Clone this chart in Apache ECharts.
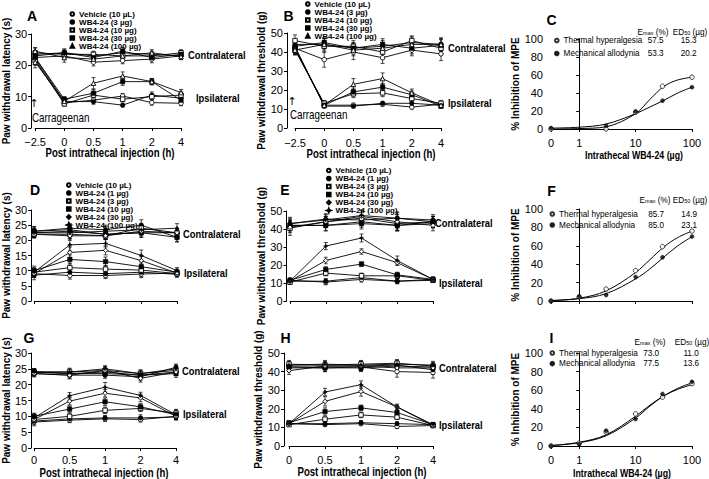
<!DOCTYPE html>
<html><head><meta charset="utf-8">
<script src="https://cdn.jsdelivr.net/npm/echarts@6/dist/echarts.min.js"></script>
<style>html,body{margin:0;padding:0;background:#fff}#c{width:709px;height:479px}</style>
</head><body><div id="c"></div>
<script>
// ================= DATA =================
const timeAB = ['\u22122.5', '0', '0.5', '1', '2', '4'];
const timeDG = ['0', '0.5', '1', '2', '4'];
const groupsAB = ['Vehicle (10 \u00b5L)', 'WB4-24 (3 \u00b5g)', 'WB4-24 (10 \u00b5g)', 'WB4-24 (30 \u00b5g)', 'WB4-24 (100 \u00b5g)'];
const groupsDG = ['Vehicle (10 \u00b5L)', 'WB4-24 (1 \u00b5g)', 'WB4-24 (3 \u00b5g)', 'WB4-24 (10 \u00b5g)', 'WB4-24 (30 \u00b5g)', 'WB4-24 (100 \u00b5g)'];

// Panel A: thermal latency (s)
const aIpsi = [
  [22, 8, 8.9, 10.2, 8.1, 7.9],
  [22.5, 8.5, 8.4, 7.3, 10.5, 9.5],
  [21.5, 7.7, 10.5, 9.2, 10, 10.5],
  [22.5, 9.2, 11.1, 14.8, 14.8, 8.9],
  [21, 8.5, 14.3, 16.6, 14.8, 11.3]];
const aIpsiErr = [
  [1.2, 0.8, 0.8, 0.8, 0.8, 0.8],
  [1.5, 0.8, 0.8, 0.6, 1.0, 0.9],
  [1.5, 0.7, 1.2, 0.8, 0.9, 1.0],
  [1.2, 0.8, 1.2, 1.2, 1.0, 1.0],
  [1.8, 0.8, 1.8, 1.3, 1.0, 1.0]];
const aContra = [
  [22.5, 23, 21, 21.5, 22, 23],
  [23.5, 24, 23, 24, 23.5, 23],
  [24, 23.5, 23.5, 23, 23, 24],
  [23, 24, 22.5, 24.5, 22.5, 23.5],
  [24.5, 22.5, 22, 23, 24, 22.8]];
const aContraErr = [
  [1.5, 1.0, 1.2, 1.0, 1.2, 1.0],
  [1.2, 1.2, 1.2, 1.0, 1.0, 1.0],
  [1.5, 1.2, 1.0, 1.2, 1.2, 1.0],
  [1.0, 1.2, 1.3, 1.2, 1.0, 1.2],
  [1.2, 1.5, 1.2, 1.0, 1.0, 1.0]];

// Panel B: mechanical threshold (g)
const bIpsi = [
  [42, 12, 12, 12.5, 11, 12.5],
  [43, 11.5, 11.5, 13, 13, 12],
  [41, 13, 18, 18.5, 15.5, 13],
  [42, 12, 19, 21.5, 17.5, 11.5],
  [41.5, 12, 23, 26, 18.5, 12]];
const bIpsiErr = [
  [2, 1, 1, 1, 1, 1],
  [2.5, 1, 1, 1, 1.5, 1],
  [2, 1.5, 2, 2, 1.5, 1.5],
  [2.5, 1, 2, 2, 2, 1],
  [3, 1, 3, 3, 2, 1.5]];
const bContra = [
  [42, 36, 40, 37, 41, 39],
  [44, 44, 42, 43, 45, 44],
  [46, 43, 43, 40, 46, 42],
  [43, 45, 42, 44, 42, 43.5],
  [41, 44, 41, 42, 44, 44]];
const bContraErr = [
  [3, 4, 4, 3, 3, 3.5],
  [2.5, 2, 3, 3, 3, 3],
  [3, 3, 3, 4, 2.5, 3],
  [3, 2.5, 2.5, 3, 3, 3],
  [2.5, 3, 3, 3, 3, 3.5]];

// Panel D: thermal latency (s)
const dIpsi = [
  [9, 8.4, 8.4, 8.9, 9.2],
  [8.5, 9.5, 9, 9.5, 8.8],
  [9.5, 11, 10.5, 10.2, 9],
  [10, 13.7, 13, 11.3, 9.5],
  [9, 16, 16.7, 13.3, 9.2],
  [9.5, 18.5, 19, 15, 10]];
const dIpsiErr = [
  [1.2, 1.2, 1.0, 1.2, 0.8],
  [1.5, 1.5, 1.2, 1.5, 1.0],
  [1.2, 1.5, 1.2, 1.2, 0.8],
  [1.5, 1.5, 1.5, 1.2, 1.0],
  [1.2, 1.8, 1.5, 1.5, 1.0],
  [1.5, 2.0, 1.2, 1.8, 1.0]];
const dContra = [
  [22.5, 23, 22, 22.5, 22.5],
  [23, 24, 23.5, 25, 21],
  [22, 22, 21.5, 24, 22.5],
  [23, 23.5, 22, 22.5, 21],
  [22, 21.5, 21.5, 23, 22.5],
  [22.5, 22.5, 23, 23.5, 24]];
const dContraErr = [
  [1.5, 1.5, 1.5, 1.5, 1.2],
  [1.5, 1.5, 1.5, 1.8, 1.5],
  [1.2, 1.5, 1.2, 1.5, 1.2],
  [1.5, 1.2, 1.5, 1.5, 1.5],
  [1.2, 1.5, 1.2, 1.5, 1.2],
  [1.5, 1.5, 1.5, 1.5, 1.5]];

// Panel E: mechanical threshold (g)
const eIpsi = [
  [11.5, 10.5, 12, 11, 11.5],
  [11, 11, 13, 11, 12],
  [10.5, 15.5, 14, 14, 11.5],
  [11.5, 17.5, 20.5, 14.5, 12],
  [11, 22.5, 27.5, 21.3, 12],
  [11, 30.5, 35, 22.5, 12]];
const eIpsiErr = [
  [1.2, 1.5, 1.5, 1.2, 1.2],
  [1.5, 1.5, 1.5, 1.5, 1.2],
  [1.2, 1.5, 1.5, 1.5, 1.2],
  [1.2, 1.5, 1.2, 1.5, 1.2],
  [1.2, 1.8, 1.5, 1.5, 1.2],
  [1.5, 2.0, 2.2, 2.5, 1.2]];
const eContra = [
  [42, 42, 44, 42, 43],
  [43, 45.5, 45, 46, 45],
  [40.5, 44, 46, 43, 44],
  [42, 42, 43, 42, 44],
  [41, 44, 47, 44, 42],
  [43, 45, 47.5, 46, 44]];
const eContraErr = [
  [3, 3, 3, 3, 2.5],
  [3, 3, 3, 3, 3],
  [4, 3, 3, 4, 3],
  [3, 3, 3, 3, 3],
  [3, 3, 3.5, 4, 3],
  [3.5, 3, 3, 3.5, 3]];

// Panel G: thermal latency (s)
const gIpsi = [
  [8.2, 8.8, 9.2, 9, 10],
  [8.5, 9.2, 9.5, 9.5, 9.8],
  [9, 10, 11.9, 12.5, 11],
  [10, 12.3, 14.6, 13, 10.5],
  [9, 14.8, 17.3, 15.8, 10],
  [9.5, 16.5, 19.2, 16.6, 10.5]];
const gIpsiErr = [
  [1.2, 0.8, 0.8, 0.8, 0.8],
  [1.0, 1.0, 0.8, 1.0, 1.0],
  [1.0, 1.0, 1.0, 1.0, 1.2],
  [1.0, 1.0, 1.2, 1.0, 1.5],
  [1.0, 1.2, 1.2, 1.2, 1.0],
  [1.2, 1.0, 1.5, 1.0, 1.2]];
const gContra = [
  [24, 23.5, 24, 23, 24],
  [23.5, 23, 23, 22.5, 25.5],
  [24, 24, 24.5, 23.5, 24.5],
  [24, 23.5, 23.5, 23, 23.5],
  [23.5, 23, 24.5, 22, 24],
  [24, 24, 25, 23.5, 25]];
const gContraErr = [
  [1.0, 1.0, 1.0, 1.2, 1.0],
  [1.0, 1.2, 1.0, 1.2, 1.0],
  [1.0, 1.0, 1.2, 1.0, 1.0],
  [1.0, 1.0, 1.0, 1.0, 1.2],
  [1.0, 1.0, 1.0, 1.2, 1.0],
  [1.0, 1.2, 1.0, 1.2, 1.2]];

// Panel H: mechanical threshold (g)
const hIpsi = [
  [12, 11.5, 12, 10.5, 11],
  [12, 12, 12.5, 12, 11.5],
  [11.5, 14.4, 16.7, 15.5, 11],
  [12.5, 18.5, 20.5, 18, 11.5],
  [12, 24, 29.3, 21, 11],
  [12, 29, 33, 21, 11.5]];
const hIpsiErr = [
  [1.0, 1.0, 1.0, 1.0, 1.0],
  [1.0, 1.0, 1.2, 1.0, 1.0],
  [1.0, 1.2, 1.5, 1.2, 1.0],
  [1.0, 2.0, 1.5, 1.2, 1.0],
  [1.0, 2.5, 2.5, 1.5, 1.0],
  [1.0, 2.0, 2.0, 1.0, 1.0]];
const hContra = [
  [42, 42, 42.5, 40, 39.5],
  [43, 43, 43, 43.5, 41],
  [44, 43.5, 44, 44.5, 43],
  [42.5, 42, 42, 43, 42.5],
  [40.5, 43, 43, 42, 42],
  [43.5, 44, 43.5, 44, 43.5]];
const hContraErr = [
  [2, 2, 2, 3, 3],
  [2, 2, 2.5, 2, 2.5],
  [2, 2, 2, 2, 2],
  [2.5, 2, 2, 2, 2],
  [2, 2, 2.5, 2.5, 2],
  [2, 2, 2, 2, 2]];

// Dose-response panels C, F, I (% inhibition of MPE)
const doseTicks = [0, 1, 10, 100];
const doseTickLabels = ['0', '1', '10', '100'];
const effectNames = ['Thermal hyperalgesia', 'Mechanical allodynia'];
const curveDose = [0, 1, 3, 10, 18, 32, 56, 100];

const cDose = [0, 3, 10, 30, 100];
const cThermal = [0, 0, 18.5, 47.5, 57.5];
const cMech = [1, 3.5, 19.5, 31.5, 46.5];
const cThermalFit = [0, 0.5, 2.5, 17, 33, 47.5, 54.5, 57.5];
const cMechFit = [1, 2, 5.5, 17, 24.5, 32, 40, 46.5];
const cEmax = ['57.5', '53.3'];
const cED50 = ['15.3', '20.2'];

const fDose = [0, 1, 3, 10, 30, 100];
const fThermal = [0, 4.5, 13, 33, 59, 76];
const fMech = [0, 5, 6.5, 26, 47.5, 70];
const fThermalFit = [0.5, 3, 11, 31, 45, 59, 69, 76];
const fMechFit = [0.5, 2.5, 8, 24, 35, 48, 60, 70];
const fEmax = ['85.7', '85.0'];
const fED50 = ['14.9', '23.1'];

const iDose = [0, 1, 3, 10, 30, 100];
const iThermal = [0, 3, 15, 34.5, 52.5, 67];
const iMech = [0, 2, 16.5, 29, 56, 69];
const iThermalFit = [0.5, 4, 12, 32, 44, 54, 61, 66];
const iMechFit = [0.5, 3.5, 11, 30, 43, 54, 62, 68];
const iEmax = ['73.0', '77.5'];
const iED50 = ['11.0', '13.6'];

// ================= STYLE / LAYOUT =================
const FN = "'Liberation Sans',Arial,sans-serif";
const symOpen = {color: '#fff', borderColor: '#000', borderWidth: 0.9};
const symFill = {color: '#000', borderColor: '#000', borderWidth: 0.5};
const STAR = 'path://M5,0L6.4,3.6L10,5L6.4,6.4L5,10L3.6,6.4L0,5L3.6,3.6Z';
const markersAB = [['circle', symOpen], ['circle', symFill], ['rect', symOpen], ['rect', symFill], ['triangle', symOpen]];
const markersDG = [['circle', symOpen], ['circle', symFill], ['rect', symOpen], ['rect', symFill], ['diamond', symOpen], [STAR, symFill]];
const LAT = 'Paw withdrawal latency (s)';
const THR = 'Paw withdrawal threshold (g)';
const MPE = '% Inhibition of MPE';
const PIT = 'Post intrathecal injection (h)';
const DOSE = 'Intrathecal WB4-24 (\u00b5g)';

const grid = [], xAxis = [], yAxis = [], series = [], legend = [], graphic = [];
const lx = d => d === 0 ? -0.5 : Math.log10(d);

function txt(x, y, text, size, weight, align, sx, family) {
  return {type: 'text', x: x, y: y, scaleX: sx || 1, silent: true, z: 10,
    style: {text: text, fontSize: size, fontWeight: weight || 'normal', fontFamily: family || FN, fill: '#000',
      align: align || 'left', textAlign: align || 'left', verticalAlign: 'middle', textVerticalAlign: 'middle'}};
}

function yAxisCfg(gi, L, max, interval, name) {
  return {gridIndex: gi, type: 'value', min: 0, max: max, interval: interval, offset: L.yOff,
    axisLine: {show: true, lineStyle: {color: '#000', width: 1}},
    axisTick: {show: true, length: 3, lineStyle: {color: '#000', width: 1}},
    axisLabel: {fontSize: 11, margin: 4, color: '#000', fontFamily: FN},
    splitLine: {show: false},
    name: name, nameLocation: 'middle', nameGap: L.yGap,
    nameTextStyle: {fontSize: 10, fontWeight: 'bold', color: '#000', fontFamily: FN}};
}

function errSeries(gi, vals, errs) {
  return {type: 'custom', xAxisIndex: gi, yAxisIndex: gi, silent: true, z: 2, animation: false,
    encode: {x: 0, y: 1},
    data: vals.map((v, i) => [i, v, errs[i]]),
    renderItem: function (params, api) {
      const x = api.value(0), y = api.value(1), e = api.value(2);
      const p1 = api.coord([x, y + e]), p2 = api.coord([x, y - e]);
      const st = {stroke: '#000', lineWidth: 0.7};
      const c = 2;
      return {type: 'group', children: [
        {type: 'line', shape: {x1: p1[0], y1: p1[1], x2: p2[0], y2: p2[1]}, style: st},
        {type: 'line', shape: {x1: p1[0] - c, y1: p1[1], x2: p1[0] + c, y2: p1[1]}, style: st},
        {type: 'line', shape: {x1: p2[0] - c, y1: p2[1], x2: p2[0] + c, y2: p2[1]}, style: st}]};
    }};
}

function timePanel(L, cats, groups, markers, ipsi, ipsiErr, contra, contraErr) {
  const gi = grid.length;
  grid.push(Object.assign({containLabel: false}, L.grid));
  xAxis.push({gridIndex: gi, type: 'category', data: cats, boundaryGap: false, offset: L.xOff,
    axisLine: {show: true, lineStyle: {color: '#000', width: 1}},
    axisTick: {show: true, length: 3, interval: 0, lineStyle: {color: '#000', width: 1}},
    axisLabel: {show: L.showX, interval: 0, fontSize: 11, margin: L.xMargin || 4, color: '#000', fontFamily: FN},
    splitLine: {show: false}});
  yAxis.push(yAxisCfg(gi, L, L.yMax, L.yInt, L.yName));
  const names = groups.map(g => L.id + '|' + g);
  groups.forEach((g, s) => {
    [[ipsi, ipsiErr], [contra, contraErr]].forEach(pair => {
      series.push(errSeries(gi, pair[0][s], pair[1][s]));
      series.push({type: 'line', name: names[s], xAxisIndex: gi, yAxisIndex: gi, data: pair[0][s],
        symbol: markers[s][0], symbolSize: 4.5, itemStyle: markers[s][1],
        lineStyle: {color: '#000', width: 0.9}, z: 3, animation: false, silent: true});
    });
  });
  if (L.legend) {
    legend.push({left: L.legend.left, top: L.legend.top, orient: 'vertical', padding: 0, itemGap: 0,
      itemWidth: 3.6, itemHeight: 3.6, selectedMode: false,
      textStyle: {fontFamily: FN, fontSize: 8, fontWeight: 'bold', color: '#000', lineHeight: 7},
      formatter: n => n.slice(n.indexOf('|') + 1),
      data: names.map((n, i) => ({name: n, icon: markers[i][0]}))});
  }
  graphic.push(txt(L.letter[0], L.letter[1], L.id, 14, 'bold', 'center'));
  graphic.push(txt(L.contra[0], L.contra[1], 'Contralateral', 11, 'bold', 'left', 0.85));
  graphic.push(txt(L.ipsi[0], L.ipsi[1], 'Ipsilateral', 11, 'bold', 'left', 0.85));
  if (L.xTitle) graphic.push(txt(L.xTitle[0], L.xTitle[1], PIT, 12, 'bold', 'center', 0.8));
  if (L.carr) {
    graphic.push(txt(L.carr.arrow[0], L.carr.arrow[1], '\u2191', 11, 'normal', 'center', 1, "'DejaVu Sans',sans-serif"));
    graphic.push(txt(L.carr.text[0], L.carr.text[1], 'Carrageenan', 12, 'normal', 'left', 0.82));
  }
}

function dosePanel(L, doses, thermal, mech, thermalFit, mechFit, emax, ed50) {
  const gi = grid.length;
  grid.push(Object.assign({containLabel: false}, L.grid));
  const tickPos = doseTicks.map(lx);
  xAxis.push({gridIndex: gi, type: 'value', min: -0.5, max: 2, offset: L.xOff,
    axisLine: {show: true, lineStyle: {color: '#000', width: 1}},
    axisTick: {show: true, length: 3, customValues: tickPos, lineStyle: {color: '#000', width: 1}},
    axisLabel: {show: L.showX, customValues: tickPos, fontSize: 11, margin: 4, color: '#000', fontFamily: FN,
      formatter: v => { const k = tickPos.findIndex(t => Math.abs(t - v) < 1e-6); return k >= 0 ? doseTickLabels[k] : ''; }},
    splitLine: {show: false}});
  yAxis.push(yAxisCfg(gi, L, 100, 20, MPE));
  const names = effectNames.map(n => L.id + '|' + n);
  [thermalFit, mechFit].forEach(fit => {
    series.push({type: 'line', xAxisIndex: gi, yAxisIndex: gi, data: curveDose.map((d, i) => [lx(d), fit[i]]),
      symbol: 'none', smooth: 0.35, lineStyle: {color: '#000', width: 1}, z: 2, animation: false, silent: true});
  });
  series.push({type: 'scatter', name: names[0], xAxisIndex: gi, yAxisIndex: gi, data: doses.map((d, i) => [lx(d), thermal[i]]),
    symbol: 'circle', symbolSize: 4.5, itemStyle: symOpen, z: 4, animation: false, silent: true});
  series.push({type: 'scatter', name: names[1], xAxisIndex: gi, yAxisIndex: gi, data: doses.map((d, i) => [lx(d), mech[i]]),
    symbol: 'circle', symbolSize: 4, itemStyle: symFill, z: 4, animation: false, silent: true});
  const fs = 8.2;
  legend.push({left: L.legend.left, top: L.legend.top, orient: 'vertical', padding: 0, itemGap: L.legend.gap,
    itemWidth: 3.6, itemHeight: 3.6, selectedMode: false,
    textStyle: {fontFamily: FN, fontSize: fs, color: '#000', lineHeight: 8,
      rich: {n: {width: L.legend.nW, fontSize: fs, fontFamily: FN, lineHeight: 8},
             e: {width: L.legend.eW, align: 'center', fontSize: fs, fontFamily: FN, lineHeight: 8},
             d: {width: L.legend.dW, align: 'center', fontSize: fs, fontFamily: FN, lineHeight: 8}}},
    formatter: n => { const k = names.indexOf(n); return '{n|' + effectNames[k] + '}{e|' + emax[k] + '}{d|' + ed50[k] + '}'; },
    data: names.map(n => ({name: n, icon: 'circle'}))});
  const sub = {n: {fontSize: 8.2, fontFamily: FN, lineHeight: 7, fill: '#000'}, s: {fontSize: 5.5, fontFamily: FN, lineHeight: 5, verticalAlign: 'bottom', fill: '#000'}};
  graphic.push({type: 'text', x: L.head.e, y: L.head.y, silent: true, z: 10,
    style: {text: '{n|E}{s|max}{n| (%)}', rich: sub, fontSize: 8.2, fontFamily: FN, fill: '#000', align: 'center', textAlign: 'center', verticalAlign: 'middle', textVerticalAlign: 'middle'}});
  graphic.push({type: 'text', x: L.head.d, y: L.head.y, silent: true, z: 10,
    style: {text: '{n|ED}{s|50}{n| (\u00b5g)}', rich: sub, fontSize: 8.2, fontFamily: FN, fill: '#000', align: 'center', textAlign: 'center', verticalAlign: 'middle', textVerticalAlign: 'middle'}});
  graphic.push(txt(L.letter[0], L.letter[1], L.id, 14, 'bold', 'center'));
  if (L.xTitle) graphic.push(txt(L.xTitle[0], L.xTitle[1], DOSE, 11, 'bold', 'center', 0.8));
}

// ---------- panels ----------
timePanel({id: 'A', grid: {left: 33, top: 34, width: 148, height: 94}, xOff: 4, yOff: 4, yMax: 30, yInt: 10, showX: true, yGap: 17,
  yName: LAT, legend: {left: 69.5, top: 10}, letter: [32, 15.5], contra: [188, 55], ipsi: [196, 98], xTitle: [110, 153],
  carr: {arrow: [34, 103], text: [32, 118]}}, timeAB, groupsAB, markersAB, aIpsi, aIpsiErr, aContra, aContraErr);
timePanel({id: 'B', grid: {left: 295, top: 33, width: 146, height: 95}, xOff: 5, yOff: 8, yMax: 50, yInt: 10, showX: true, yGap: 19,
  yName: THR, legend: {left: 305, top: 0}, letter: [288.5, 16], contra: [448, 48], ipsi: [448, 103], xTitle: [371, 154],
  carr: {arrow: [292, 101], text: [290, 115]}}, timeAB, groupsAB, markersAB, bIpsi, bIpsiErr, bContra, bContraErr);
dosePanel({id: 'C', grid: {left: 551, top: 39, width: 141, height: 90}, xOff: 4, yOff: 4, showX: true, yGap: 22, xTitle: [634, 155],
  legend: {left: 554, top: 36.5, gap: 5, nW: 77, eW: 30, dW: 36}, head: {y: 32.5, e: 653, d: 690}, letter: [551.5, 20]},
  cDose, cThermal, cMech, cThermalFit, cMechFit, cEmax, cED50);
timePanel({id: 'D', grid: {left: 32, top: 210, width: 145, height: 91}, xOff: 5.5, yOff: 3, yMax: 30, yInt: 5, showX: false, yGap: 17,
  yName: LAT, legend: {left: 66, top: 181}, letter: [35, 189.5], contra: [183, 234], ipsi: [184, 273]},
  timeDG, groupsDG, markersDG, dIpsi, dIpsiErr, dContra, dContraErr);
timePanel({id: 'E', grid: {left: 290, top: 211, width: 143, height: 90}, xOff: 6.5, yOff: 3.5, yMax: 50, yInt: 10, showX: false, yGap: 19.5,
  yName: THR, legend: {left: 326, top: 166.5}, letter: [285, 189.5], contra: [435, 223], ipsi: [439, 283]},
  timeDG, groupsDG, markersDG, eIpsi, eIpsiErr, eContra, eContraErr);
dosePanel({id: 'F', grid: {left: 551, top: 209, width: 141, height: 92}, xOff: 5.5, yOff: 4, showX: false, yGap: 23,
  legend: {left: 549.5, top: 210, gap: 3, nW: 82, eW: 30, dW: 36}, head: {y: 200, e: 655, d: 690}, letter: [551.5, 190.5]},
  fDose, fThermal, fMech, fThermalFit, fMechFit, fEmax, fED50);
timePanel({id: 'G', grid: {left: 32, top: 353, width: 144, height: 95}, xOff: 4.5, yOff: 3, yMax: 30, yInt: 5, showX: true, xMargin: 2, yGap: 17,
  yName: LAT, letter: [29, 337.5], contra: [182, 371], ipsi: [183, 414], xTitle: [104, 473]},
  timeDG, groupsDG, markersDG, gIpsi, gIpsiErr, gContra, gContraErr);
timePanel({id: 'H', grid: {left: 289, top: 353, width: 144, height: 93}, xOff: 6, yOff: 5, yMax: 50, yInt: 10, showX: true, xMargin: 2, yGap: 16,
  yName: THR, letter: [285.5, 337.5], contra: [439, 368], ipsi: [439, 425], xTitle: [362, 472]},
  timeDG, groupsDG, markersDG, hIpsi, hIpsiErr, hContra, hContraErr);
dosePanel({id: 'I', grid: {left: 551, top: 353, width: 141, height: 93}, xOff: 4, yOff: 4, showX: true, yGap: 23.5, xTitle: [622, 473],
  legend: {left: 549.5, top: 349, gap: 2.6, nW: 77, eW: 30, dW: 50}, head: {y: 342.5, e: 650, d: 692}, letter: [551.5, 337.5]},
  iDose, iThermal, iMech, iThermalFit, iMechFit, iEmax, iED50);

const chart = echarts.init(document.getElementById('c'), null, {renderer: 'svg', width: 709, height: 479});
chart.setOption({animation: false, backgroundColor: '#fff', textStyle: {fontFamily: FN, color: '#000'},
  grid: grid, xAxis: xAxis, yAxis: yAxis, series: series, legend: legend, graphic: graphic});
</script>
</body></html>
